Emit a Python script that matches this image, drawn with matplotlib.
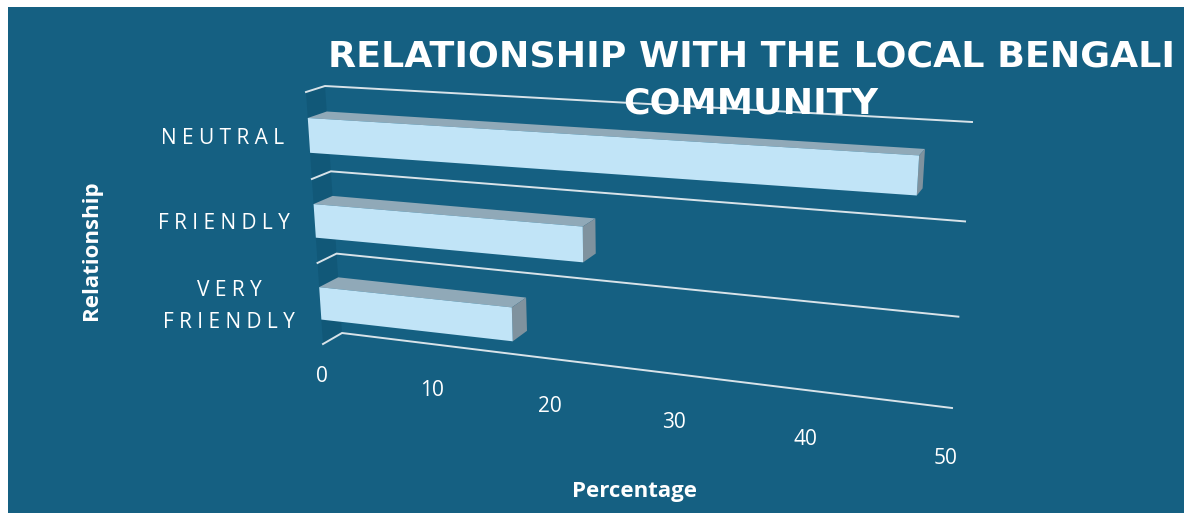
import matplotlib
matplotlib.use('Agg')
import matplotlib.pyplot as plt
import numpy as np
from matplotlib.patches import Rectangle

categories = ['NEUTRAL', 'FRIENDLY', 'VERY\nFRIENDLY']
percentages = [47, 22.8, 16.9]
value_ticks = [0, 10, 20, 30, 40, 50]

title = 'RELATIONSHIP WITH THE LOCAL BENGALI\nCOMMUNITY'
x_label = 'Percentage'
y_label = 'Relationship'

W, H = 1184, 513
BG = '#156082'
DARK = '#115878'
FRONT = '#c1e4f7'
TOP = '#90a9b8'
SIDE = '#7f929e'
GRID = '#d8e3e9'
BAR_TOP, BAR_BOTTOM = 0.295, 0.695
VMAX = value_ticks[-1]
ROWS = len(categories)


def fit_homography(src, dst):
    A, b = [], []
    for (u, v), (x, y) in zip(src, dst):
        A.append([u, v, 1, 0, 0, 0, -u * x, -v * x])
        A.append([0, 0, 0, u, v, 1, -u * y, -v * y])
        b += [x, y]
    return np.append(np.linalg.solve(np.array(A, float), np.array(b, float)), 1).reshape(3, 3)


# back wall corners in image pixels
WALL = fit_homography([(0, 0), (VMAX, 0), (0, ROWS), (VMAX, ROWS)],
                      [(325, 86), (972, 122), (342, 333), (952, 408)])


def project(value, row, depth=0.0):
    '''value/row on the wall, depth 1 is the front plane of the bars.'''
    p = WALL @ np.array([value, row, 1.0])
    x, y = p[0] / p[2], p[1] / p[2]
    frac = value / VMAX
    return x - depth * (19 - 14 * frac), y + depth * (6 + 5 * row / ROWS)


def poly(ax, corners, color, z):
    pts = [project(*c) for c in corners]
    ax.fill([p[0] for p in pts], [p[1] for p in pts], color=color, lw=0, zorder=z)


fig = plt.figure(figsize=(W / 100, H / 100), dpi=100, facecolor='white')
ax = fig.add_axes([0, 0, 1, 1])
ax.set_xlim(0, W)
ax.set_ylim(H, 0)
ax.axis('off')
ax.add_patch(Rectangle((8, 7), W - 8, H - 7, color=BG, lw=0, zorder=0))

# floor strip on the left
poly(ax, [(0, 0, 0), (0, ROWS, 0), (0, ROWS, 1), (0, 0, 1)], DARK, 1)

# grid lines
for r in range(ROWS + 1):
    pts = [project(0, r, 1), project(0, r, 0), project(VMAX, r, 0)]
    ax.plot([p[0] for p in pts], [p[1] for p in pts], color=GRID, lw=1.4, zorder=2,
            solid_joinstyle='miter')

# bars
for i, (cat, val) in enumerate(zip(categories, percentages)):
    t, b = i + BAR_TOP, i + BAR_BOTTOM
    poly(ax, [(0, t, 0), (val, t, 0), (val, t, 1), (0, t, 1)], TOP, 3)
    poly(ax, [(val, t, 0), (val, b, 0), (val, b, 1), (val, t, 1)], SIDE, 3)
    poly(ax, [(0, t, 1), (val, t, 1), (val, b, 1), (0, b, 1)], FRONT, 4)

    # spaced out category labels, right edge follows the bars
    spaced = '\n'.join(' '.join(line) for line in cat.split('\n'))
    x, y = project(0, i + (BAR_TOP + BAR_BOTTOM) / 2, 1)
    ax.text(x - 25, y + 3, spaced, ha='right', va='center', multialignment='center', color='white',
            fontsize=15, family='Open Sans', linespacing=1.65, zorder=6)

# value axis labels
for v in value_ticks:
    x, y = project(v, ROWS, 1)
    ax.text(x - 1, y + 32 + 7 * v / VMAX, str(v), ha='center', va='center', color='white',
            fontsize=15, family='Open Sans', zorder=6)

ax.text(751, 80, title, ha='center', va='center', color='white', fontsize=26.2,
        fontweight='bold', family='DejaVu Sans', linespacing=1.46, zorder=7)
ax.text(635, 491, x_label, ha='center', va='center', color='white', fontsize=16,
        fontweight='bold', family='Open Sans', zorder=6)
ax.text(91, 250, y_label, ha='center', va='center', rotation=90, color='white', fontsize=16,
        fontweight='bold', family='Open Sans', zorder=6)

fig.savefig('out.png', dpi=100)
